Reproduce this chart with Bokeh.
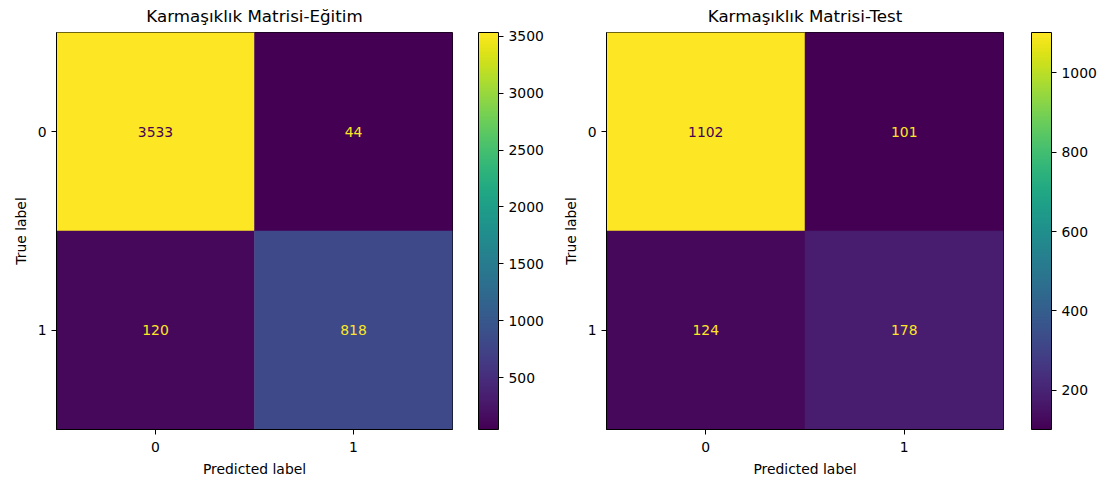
from bokeh.plotting import figure
from bokeh.models import ColorBar, LinearColorMapper, FixedTicker, ColumnDataSource, Range1d
from bokeh.palettes import Viridis256
from bokeh.layouts import row
from bokeh.embed import file_html
from bokeh.resources import INLINE
from bokeh.core.properties import value

class_labels = ["0", "1"]
train_title = "Karmaşıklık Matrisi-Eğitim"
test_title = "Karmaşıklık Matrisi-Test"
train_matrix = [[3533, 44], [120, 818]]
test_matrix = [[1102, 101], [124, 178]]
train_cbar_ticks = [500, 1000, 1500, 2000, 2500, 3000, 3500]
test_cbar_ticks = [200, 400, 600, 800, 1000]

FONT = "DejaVu Sans"
H = 479
TOP = 32
BOTTOM = 50


def make(matrix, title, cticks, width, left, right, cb_width, cb_gap):
    vals = [v for r in matrix for v in r]
    lo, hi = min(vals), max(vals)
    mapper = LinearColorMapper(palette=Viridis256, low=lo, high=hi)
    thresh = (lo + hi) / 2
    xs, ys, vs, tc, labels = [], [], [], [], []
    for i, r in enumerate(matrix):
        for j, v in enumerate(r):
            xs.append(j)
            ys.append(i)
            vs.append(v)
            labels.append(str(v))
            tc.append(Viridis256[-1] if v < thresh else Viridis256[0])
    src = ColumnDataSource(dict(x=xs, y=ys, v=vs, tc=tc, label=labels))
    n = len(class_labels)
    p = figure(width=width, height=H,
               x_range=Range1d(-0.5, n - 0.5), y_range=Range1d(n - 0.5, -0.5),
               output_backend="svg", toolbar_location=None,
               min_border_left=left, min_border_right=right,
               min_border_top=TOP, min_border_bottom=BOTTOM, title=title)
    p.rect(x='x', y='y', width=1, height=1, source=src,
           fill_color={'field': 'v', 'transform': mapper},
           line_color={'field': 'v', 'transform': mapper}, line_width=0.5)
    p.text(x='x', y='y', text='label', text_color='tc', text_align='center',
           text_baseline='middle', text_font=value(FONT), text_font_size="13.9px",
           source=src)
    p.grid.visible = False
    p.outline_line_color = "black"
    p.outline_line_width = 1
    p.background_fill_color = "white"
    p.border_fill_color = "white"
    p.title.text_font = FONT
    p.title.text_font_size = "16.7px"
    p.title.text_font_style = "normal"
    p.title.align = "center"
    p.title.vertical_align = "top"
    p.title.text_color = "black"
    p.title.standoff = 10
    for ax in (p.xaxis, p.yaxis):
        ax.ticker = FixedTicker(ticks=list(range(n)))
        ax.major_label_overrides = {i: lab for i, lab in enumerate(class_labels)}
        ax.major_tick_in = 0
        ax.major_tick_out = 5
        ax.minor_tick_line_color = None
        ax.major_label_text_font = FONT
        ax.major_label_text_font_size = "13.9px"
        ax.major_label_text_color = "black"
        ax.axis_label_text_font = FONT
        ax.axis_label_text_font_size = "13.9px"
        ax.axis_label_text_font_style = "normal"
        ax.axis_label_text_color = "black"
        ax.axis_line_color = "black"
        ax.axis_label_standoff = 6
    p.xaxis.major_label_standoff = 7
    p.yaxis.major_label_standoff = 5
    p.xaxis.axis_label = "Predicted label"
    p.yaxis.axis_label = "True label"
    p.yaxis.major_label_orientation = "horizontal"

    c = figure(width=cb_width, height=H, output_backend="svg", toolbar_location=None,
               x_axis_location=None, y_axis_location=None,
               min_border_left=0, min_border_right=cb_width - cb_gap,
               min_border_top=TOP, min_border_bottom=BOTTOM)
    c.grid.visible = False
    c.outline_line_color = None
    c.background_fill_color = "white"
    c.border_fill_color = "white"
    cb = ColorBar(color_mapper=mapper, ticker=FixedTicker(ticks=cticks), width=20,
                  padding=0, margin=0, major_tick_in=0, major_tick_out=5,
                  major_tick_line_color="black", minor_tick_line_color=None,
                  bar_line_color="black", label_standoff=5,
                  major_label_text_font=FONT, major_label_text_font_size="13.9px",
                  major_label_text_color="black",
                  border_line_color=None, background_fill_color=None)
    c.add_layout(cb, 'right')
    return p, c


p1, c1 = make(train_matrix, train_title, train_cbar_ticks, 455, 56, 3, 100, 23)
p2, c2 = make(test_matrix, test_title, test_cbar_ticks, 451, 51, 3, 103, 25)
layout = row(p1, c1, p2, c2)

open("out.html", "w").write(file_html(layout, INLINE))
